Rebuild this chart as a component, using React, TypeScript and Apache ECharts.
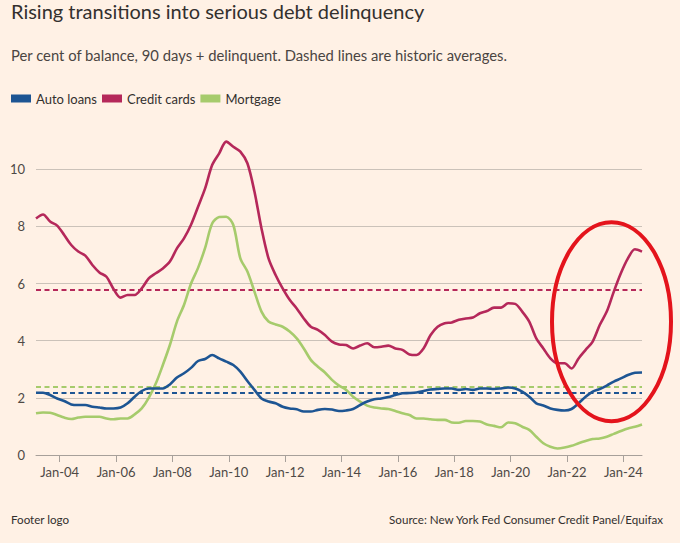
import React, { useEffect, useRef } from "react";
import * as echarts from "echarts";

const FONT = "Lato, 'Noto Sans', sans-serif";

// Quarterly observations, 2003Q1 .. 2024Q3
const autoLoans = [
  2.18, 2.18, 2.10, 1.98, 1.89, 1.77, 1.75, 1.75, 1.69, 1.66, 1.63, 1.63, 1.66, 1.81, 2.04, 2.24,
  2.33, 2.33, 2.33, 2.47, 2.71, 2.86, 3.05, 3.29, 3.36, 3.50, 3.38, 3.27, 3.15, 2.92, 2.59, 2.28,
  1.98, 1.87, 1.81, 1.69, 1.63, 1.60, 1.52, 1.52, 1.58, 1.61, 1.59, 1.54, 1.56, 1.61, 1.75, 1.87,
  1.95, 1.98, 2.03, 2.10, 2.16, 2.17, 2.19, 2.24, 2.29, 2.31, 2.33, 2.33, 2.28, 2.31, 2.28, 2.33,
  2.33, 2.31, 2.33, 2.36, 2.33, 2.22, 2.04, 1.81, 1.73, 1.63, 1.58, 1.56, 1.61, 1.81, 2.04, 2.22,
  2.31, 2.43, 2.57, 2.68, 2.80, 2.88, 2.89,
];
const creditCards = [
  8.28, 8.42, 8.17, 8.03, 7.70, 7.35, 7.12, 6.98, 6.65, 6.39, 6.24, 5.81, 5.51, 5.60, 5.60, 5.83,
  6.18, 6.36, 6.53, 6.77, 7.23, 7.58, 8.06, 8.69, 9.33, 10.15, 10.56, 10.97, 10.79, 10.62, 10.21, 9.22,
  7.93, 6.88, 6.30, 5.83, 5.43, 5.13, 4.78, 4.49, 4.38, 4.20, 3.97, 3.87, 3.85, 3.73, 3.83, 3.91,
  3.77, 3.79, 3.83, 3.73, 3.68, 3.52, 3.50, 3.73, 4.20, 4.49, 4.61, 4.64, 4.73, 4.78, 4.81, 4.96,
  5.04, 5.16, 5.16, 5.31, 5.29, 5.02, 4.67, 4.08, 3.73, 3.38, 3.21, 3.21, 3.03, 3.38, 3.68, 3.97,
  4.55, 5.02, 5.72, 6.36, 6.88, 7.20, 7.12,
];
const mortgage = [
  1.46, 1.49, 1.48, 1.40, 1.31, 1.26, 1.31, 1.34, 1.34, 1.34, 1.28, 1.25, 1.28, 1.28, 1.42, 1.63,
  2.00, 2.50, 3.15, 3.85, 4.67, 5.25, 6.00, 6.55, 7.25, 8.10, 8.33, 8.34, 8.05, 6.88, 6.42, 5.72,
  5.02, 4.67, 4.57, 4.49, 4.32, 4.08, 3.73, 3.33, 3.09, 2.89, 2.63, 2.43, 2.28, 2.04, 1.87, 1.73,
  1.66, 1.63, 1.61, 1.54, 1.46, 1.40, 1.28, 1.28, 1.25, 1.23, 1.23, 1.14, 1.13, 1.19, 1.19, 1.17,
  1.07, 1.02, 0.97, 1.14, 1.11, 0.99, 0.88, 0.64, 0.41, 0.29, 0.23, 0.26, 0.32, 0.41, 0.49, 0.56,
  0.58, 0.64, 0.74, 0.84, 0.93, 0.99, 1.07,
];

// Historic averages (dashed lines)
const autoAvg = 2.17;
const creditAvg = 5.8;
const mortgageAvg = 2.39;

const firstYear = 2003;
const quarters = autoLoans.map((_, i) => `${firstYear + Math.floor(i / 4)}Q${(i % 4) + 1}`);
const xTicks = [2004, 2006, 2008, 2010, 2012, 2014, 2016, 2018, 2020, 2022, 2024];

const seriesNames = ["Auto loans", "Credit cards", "Mortgage"];
const colors = ["#1d5593", "#b5285a", "#a6cb6c"];

// quarter label -> decimal year position (plotted ~2 months into the quarter)
const quarterPos = (q: string) => {
  const y = parseInt(q.slice(0, 4), 10);
  const n = parseInt(q.slice(5), 10);
  return y + (n - 1) * 0.25 + 0.16;
};

export default function App() {
  const ref = useRef<HTMLDivElement>(null);
  useEffect(() => {
    document.body.style.margin = "0";
    document.body.style.background = "#fff1e5";
    if (!ref.current) return;
    const chart = echarts.init(ref.current, undefined, { renderer: "svg" });
    const values = [autoLoans, creditCards, mortgage];
    const avgs = [autoAvg, creditAvg, mortgageAvg];
    const order = [2, 0, 1];
    const series: any[] = order.map((k) => ({
      name: seriesNames[k],
      type: "line",
      data: values[k].map((v, i) => [quarterPos(quarters[i]), v]),
      showSymbol: false,
      smooth: 0.3,
      clip: false,
      z: 3,
      lineStyle: { color: colors[k], width: 2.6 },
      itemStyle: { color: colors[k] },
      markLine: {
        silent: true,
        symbol: ["none", "none"],
        label: { show: false },
        lineStyle: { color: colors[k], type: [5, 3.5], width: 2.2 },
        data: [{ yAxis: avgs[k] }],
        z: 2,
      },
    }));
    chart.setOption({
      animation: false,
      backgroundColor: "#fff1e5",
      textStyle: { fontFamily: FONT },
      grid: { left: 36, right: 38, top: 169.3, bottom: 88 },
      legend: {
        left: 11,
        top: 92,
        padding: 0,
        icon: "rect",
        itemWidth: 20,
        itemHeight: 8,
        itemGap: 5,
        data: seriesNames,
        textStyle: { fontSize: 13, color: "#33302e", fontFamily: FONT },
        selectedMode: false,
      },
      xAxis: {
        type: "value",
        min: quarterPos(quarters[0]),
        max: quarterPos(quarters[quarters.length - 1]),
        axisLine: { lineStyle: { color: "#a7a09a", width: 1 } },
        axisTick: { show: true, customValues: xTicks, length: 7, lineStyle: { color: "#a7a09a" } },
        axisLabel: {
          customValues: xTicks,
          formatter: (v: number) => "Jan-" + String(Math.round(v)).slice(2),
          color: "#4e4945",
          fontSize: 13,
          margin: 10,
          fontFamily: FONT,
        },
        splitLine: { show: false },
      },
      yAxis: {
        type: "value",
        min: 0,
        max: 10,
        interval: 2,
        axisLine: { show: false },
        axisTick: { show: false },
        axisLabel: { color: "#4e4945", fontSize: 13, margin: 11, fontFamily: FONT },
        splitLine: { lineStyle: { color: "#cbc2b9", width: 1 } },
      },
      series,
      graphic: [
        {
          type: "text",
          x: 11,
          y: 11,
          style: {
            text: "Rising transitions into serious debt delinquency",
            fontSize: 20,
            fontFamily: FONT,
            fill: "#33302e",
            verticalAlign: "middle",
          },
        },
        {
          type: "text",
          x: 11,
          y: 55,
          style: {
            text: "Per cent of balance, 90 days + delinquent. Dashed lines are historic averages.",
            fontSize: 14.8,
            fontFamily: FONT,
            fill: "#4a4542",
            verticalAlign: "middle",
          },
        },
        {
          type: "text",
          x: 11,
          y: 519,
          style: { text: "Footer logo", fontSize: 11.6, fontFamily: FONT, fill: "#33302e", verticalAlign: "middle" },
        },
        {
          type: "text",
          x: 663,
          y: 519,
          style: {
            text: "Source: New York Fed Consumer Credit Panel/Equifax",
            fontSize: 11.6,
            fontFamily: FONT,
            fill: "#33302e",
            align: "right",
            verticalAlign: "middle",
          },
        },
        {
          type: "ellipse",
          shape: { cx: 611.5, cy: 321.7, rx: 59.5, ry: 99.5 },
          style: { fill: "none", stroke: "#e4141c", lineWidth: 4 },
          z: 100,
        },
      ],
    });
    return () => chart.dispose();
  }, []);
  return <div ref={ref} style={{ position: "fixed", left: 0, top: 0, width: 680, height: 543 }} />;
}
